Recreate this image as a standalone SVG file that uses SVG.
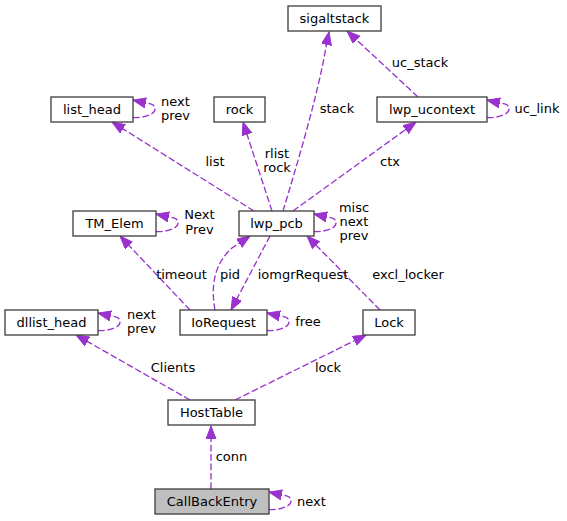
<svg xmlns="http://www.w3.org/2000/svg" width="567" height="521" viewBox="0 0 567 521">
<style>
.node rect{fill:#ffffff;stroke:#404040;stroke-width:1.33}
.node.main rect{fill:#bfbfbf}
text{font-family:"DejaVu Sans","Liberation Sans",sans-serif;font-size:13px;fill:#000000;text-anchor:middle}
.edge{fill:none;stroke:#9a32cd;stroke-width:1.33;stroke-dasharray:6.7,2.7;marker-end:url(#arr)}
</style>
<defs>
<marker id="arr" markerUnits="userSpaceOnUse" markerWidth="14" markerHeight="11" refX="13" refY="5" orient="auto">
<path d="M0,0 L13,5 L0,10 Z" fill="#9a32cd" stroke="#9a32cd" stroke-width="1"/>
</marker>
</defs>
<rect width="567" height="521" fill="#ffffff"/>
<g id="connectors">
<path class="edge" d="M283,211 C296,168 318,95 326,47 L329,32"/>
<path class="edge" d="M418,97 L347,31"/>
<path class="edge" d="M293,211 L416,122"/>
<path class="edge" d="M254,211 L112,122"/>
<path class="edge" d="M272,211 L243,122"/>
<path class="edge" d="M190,310 L120,236"/>
<path class="edge" d="M215,310 C211,288 213,265 232,248 L250,236"/>
<path class="edge" d="M270,236 L231,310"/>
<path class="edge" d="M380,310 L307,236"/>
<path class="edge" d="M190,400 L76,335"/>
<path class="edge" d="M235,400 L366,335"/>
<path class="edge" d="M211,489 L211,426"/>
<path class="edge" d="M133,117.5 C143,118 155,115 155,109 C155,105 152,103.5 146,103 L133,100"/>
<path class="edge" d="M487,117.5 C497,118 509,115 509,109 C509,105 506,103.5 500,103 L487,100"/>
<path class="edge" d="M156,231.5 C166,232 178,229 178,223 C178,219 175,217.5 169,217 L156,214"/>
<path class="edge" d="M314,231.5 C324,232 336,229 336,223 C336,219 333,217.5 327,217 L314,214"/>
<path class="edge" d="M98,330.5 C108,331 120,328 120,322 C120,318 117,316.5 111,316 L98,313"/>
<path class="edge" d="M267,330.5 C277,331 289,328 289,322 C289,318 286,316.5 280,316 L267,313"/>
<path class="edge" d="M269,509.5 C279,510 291,507 291,501 C291,497 288,495.5 282,495 L269,492"/>
<text x="337" y="113">stack</text>
<text x="420" y="67">uc_stack</text>
<text x="537" y="113">uc_link</text>
<text x="390" y="166">ctx</text>
<text x="215" y="166">list</text>
<text x="277" y="158">rlist</text>
<text x="277" y="172">rock</text>
<text x="175.5" y="105.5">next</text>
<text x="175.5" y="120">prev</text>
<text x="199.5" y="219">Next</text>
<text x="199.5" y="233.5">Prev</text>
<text x="354" y="212">misc</text>
<text x="354" y="226">next</text>
<text x="354" y="240">prev</text>
<text x="181.5" y="279">timeout</text>
<text x="230" y="279">pid</text>
<text x="303" y="279">iomgrRequest</text>
<text x="408" y="279">excl_locker</text>
<text x="308" y="325.5">free</text>
<text x="141.5" y="318.5">next</text>
<text x="141.5" y="332.5">prev</text>
<text x="173" y="371.5">Clients</text>
<text x="328" y="371.5">lock</text>
<text x="231.5" y="460.5">conn</text>
<text x="311.5" y="506">next</text>
</g>
<g id="sigaltstack" class="node"><rect x="288" y="6" width="93" height="25"/><text x="334.5" y="22.5">sigaltstack</text></g>
<g id="list_head" class="node"><rect x="51" y="97" width="82" height="25"/><text x="92" y="113.5">list_head</text></g>
<g id="rock" class="node"><rect x="214" y="97" width="51" height="25"/><text x="239.5" y="113.5">rock</text></g>
<g id="lwp_ucontext" class="node"><rect x="377" y="97" width="110" height="25"/><text x="432" y="113.5">lwp_ucontext</text></g>
<g id="TM_Elem" class="node"><rect x="73" y="211" width="83" height="25"/><text x="114.5" y="227.5">TM_Elem</text></g>
<g id="lwp_pcb" class="node"><rect x="239" y="211" width="75" height="25"/><text x="276.5" y="227.5">lwp_pcb</text></g>
<g id="dllist_head" class="node"><rect x="5" y="310" width="93" height="25"/><text x="51.5" y="326.5">dllist_head</text></g>
<g id="IoRequest" class="node"><rect x="180" y="310" width="87" height="25"/><text x="223.5" y="326.5">IoRequest</text></g>
<g id="Lock" class="node"><rect x="363" y="310" width="52" height="25"/><text x="389" y="326.5">Lock</text></g>
<g id="HostTable" class="node"><rect x="168" y="400" width="87" height="25"/><text x="211.5" y="416.5">HostTable</text></g>
<g id="CallBackEntry" class="node main"><rect x="155" y="489" width="114" height="25"/><text x="212" y="505.5">CallBackEntry</text></g>
</svg>
